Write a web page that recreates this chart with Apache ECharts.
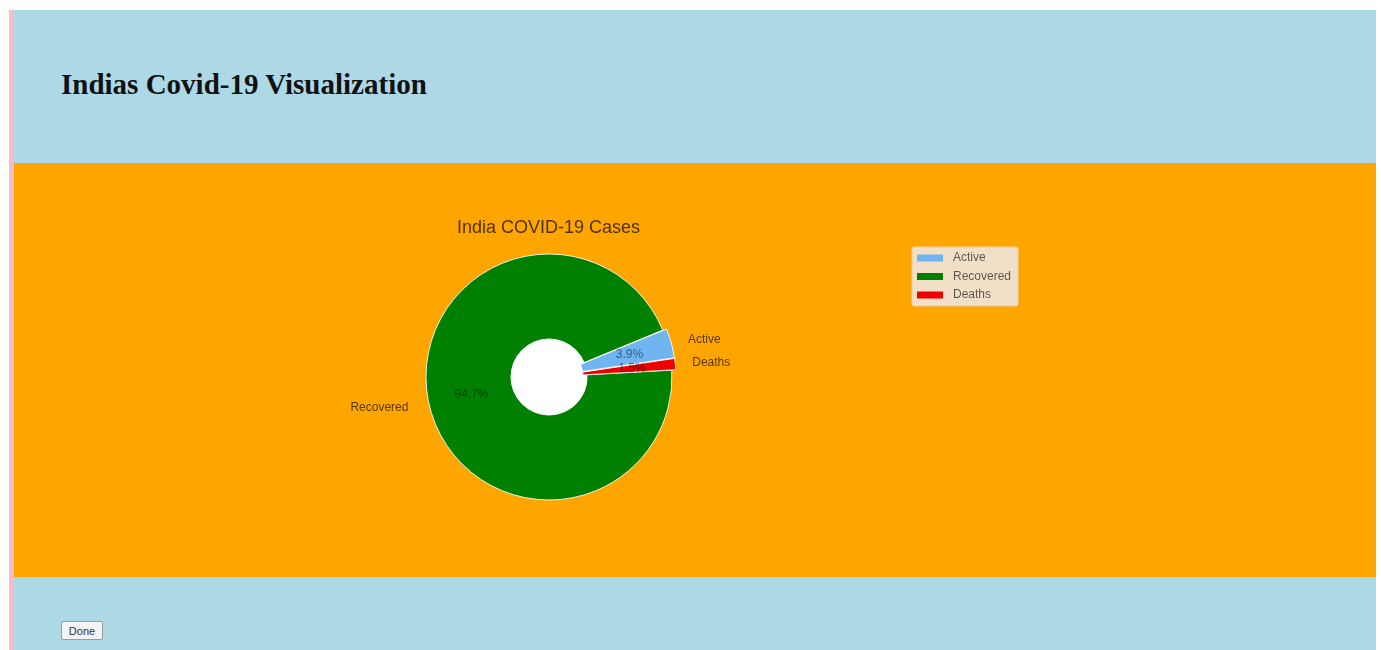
<!DOCTYPE html>
<html>
<head>
<meta charset="utf-8">
<title>Indias Covid-19 Visualization</title>
<script src="https://cdn.jsdelivr.net/npm/echarts@6/dist/echarts.min.js"></script>
<style>
  html, body { margin: 0; padding: 0; background: #ffffff; width: 1381px; height: 650px; overflow: hidden; }
  #pink { position: absolute; left: 9px; top: 10px; width: 5px; height: 640px; background: #f6bcc8; }
  #header { position: absolute; left: 14px; top: 10px; width: 1362px; height: 153px; background: #add8e6; }
  #header h1 { position: absolute; left: 47px; top: 60px; margin: 0; font-family: "Liberation Serif", "DejaVu Serif", serif; font-weight: bold; font-size: 29px; line-height: 29px; color: #111; }
  #chart { position: absolute; left: 14px; top: 163px; width: 1362px; height: 414px; background: #ffa500; }
  #footer { position: absolute; left: 14px; top: 577px; width: 1362px; height: 73px; background: #add8e6; }
  #done { position: absolute; left: 47px; top: 44px; width: 42px; height: 19px; padding: 0; font-family: "Liberation Sans", Arial, sans-serif; font-size: 11px; color: #333; background: #f4f4f4; border: 1px solid #9a9a9a; border-radius: 2px; }
</style>
</head>
<body>
<div id="pink"></div>
<div id="header"><h1>Indias Covid-19 Visualization</h1></div>
<div id="chart"></div>
<div id="footer"><button id="done">Done</button></div>
<script>
// ---- data ----
const categories = ['Active', 'Recovered', 'Deaths'];
const shares = [3.87, 94.66, 1.47];            // percent of total cases
const sliceColors = ['#6fb5f2', '#008000', '#ee0000'];
const exploded = [true, false, true];
const chartTitle = 'India COVID-19 Cases';

const chart = echarts.init(document.getElementById('chart'), null, { renderer: 'canvas' });

const mainData = categories.map((name, i) => ({
  name: name,
  value: shares[i],
  selected: exploded[i],
  itemStyle: { color: sliceColors[i] }
}));
const holeData = categories.map((name, i) => ({
  name: name,
  value: shares[i],
  itemStyle: { color: '#ffffff', borderColor: '#ffffff', borderWidth: 1 }
}));

const center = [535, 214];

chart.setOption({
  backgroundColor: '#ffa500',
  animation: false,
  title: {
    text: chartTitle,
    left: 443,
    top: 56,
    padding: 0,
    textStyle: { fontFamily: 'Liberation Sans, Arial, sans-serif', fontSize: 18, fontWeight: 'normal', color: 'rgba(0,0,0,0.7)' }
  },
  legend: {
    orient: 'vertical',
    left: 898,
    top: 84,
    data: categories,
    icon: 'rect',
    itemWidth: 26,
    itemHeight: 7,
    itemGap: 6.5,
    padding: [5, 7, 5, 5],
    backgroundColor: '#f1dfc7',
    borderColor: '#e6cfae',
    borderWidth: 1,
    borderRadius: 2,
    selectedMode: false,
    itemStyle: { borderWidth: 0 },
    textStyle: { fontFamily: 'Liberation Sans, Arial, sans-serif', fontSize: 12, lineHeight: 12, color: 'rgba(0,0,0,0.62)', padding: [0, 0, 0, 5] }
  },
  series: [
    {
      name: 'cases',
      type: 'pie',
      center: center,
      radius: [30, 123],
      startAngle: 8.5,
      clockwise: false,
      avoidLabelOverlap: false,
      selectedMode: 'multiple',
      selectedOffset: 4,
      silent: true,
      itemStyle: { borderColor: 'rgba(255,255,255,0.85)', borderWidth: 1 },
      select: { itemStyle: { borderColor: 'rgba(255,255,255,0.85)', borderWidth: 1 } },
      label: {
        show: true,
        position: 'inside',
        fontFamily: 'Liberation Sans, Arial, sans-serif',
        fontSize: 12,
        color: 'rgba(0,0,0,0.5)',
        formatter: p => p.percent.toFixed(1) + '%'
      },
      labelLine: { show: false },
      data: mainData
    },
    {
      name: 'hole',
      type: 'pie',
      center: center,
      radius: [0, 38],
      startAngle: 8.5,
      clockwise: false,
      avoidLabelOverlap: false,
      silent: true,
      legendHoverLink: false,
      label: {
        show: true,
        position: 'outside',
        alignTo: 'none',
        fontFamily: 'Liberation Sans, Arial, sans-serif',
        fontSize: 12,
        color: 'rgba(0,0,0,0.68)',
        formatter: p => p.name
      },
      labelLine: { show: false, length: 101, length2: 0 },
      data: holeData
    }
  ]
});
</script>
</body>
</html>
